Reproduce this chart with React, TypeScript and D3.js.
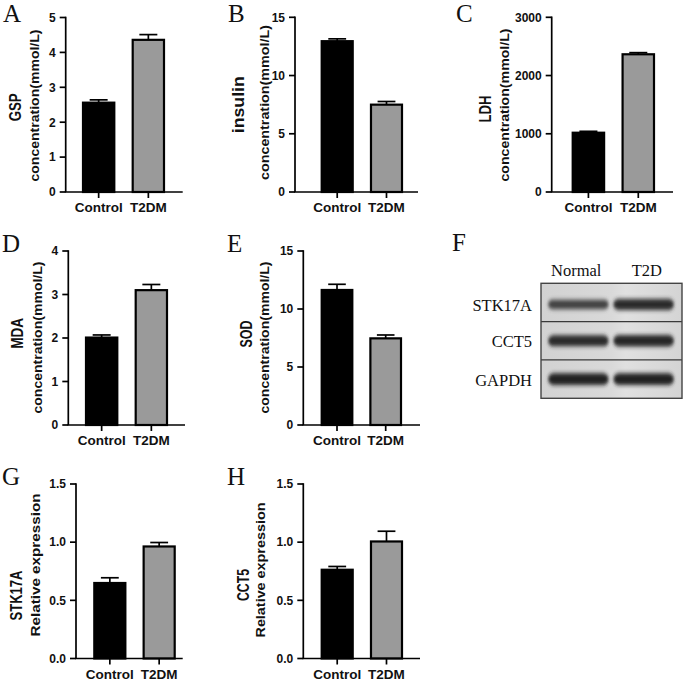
import React from "react";
import * as d3 from "d3";

// ---------- data ----------
const categories = ["Control", "T2DM"];

const gspMean = [2.56, 4.36];
const gspErr = [0.08, 0.15];
const gspTicks = [0, 1, 2, 3, 4, 5];

const insulinMean = [12.95, 7.5];
const insulinErr = [0.2, 0.27];
const insulinTicks = [0, 5, 10, 15];

const ldhMean = [1018, 2365];
const ldhErr = [24, 28];
const ldhTicks = [0, 1000, 2000, 3000];

const mdaMean = [2.01, 3.1];
const mdaErr = [0.06, 0.13];
const mdaTicks = [0, 1, 2, 3, 4];

const sodMean = [11.64, 7.47];
const sodErr = [0.49, 0.29];
const sodTicks = [0, 5, 10, 15];

const stk17aMean = [0.649, 0.963];
const stk17aErr = [0.045, 0.034];
const relTicks = [0, 0.5, 1.0, 1.5];

const cct5Mean = [0.763, 1.006];
const cct5Err = [0.028, 0.088];

const blotLanes = ["Normal", "T2D"];
const blotProteins = ["STK17A", "CCT5", "GAPDH"];
// relative band darkness (0..1) per protein, per lane
const blotIntensity = [
  [0.62, 0.85],
  [0.85, 0.92],
  [0.95, 0.95],
];

// ---------- style ----------
const SANS = "'Liberation Sans', Arial, Helvetica, sans-serif";
const SERIF = "'Liberation Serif', 'Times New Roman', serif";
const barFill = ["#000000", "#9a9a9a"];

type Panel = {
  letter: string;
  lx: number;
  ly: number;
  mean: number[];
  err: number[];
  ticks: number[];
  fmt: (v: number) => string;
  x0: number;
  xEnd: number;
  yTop: number;
  y0: number;
  barL: number;
  barR: number;
  t1: string;
  t1x: number;
  t1y: number;
  t1len: number;
  t2: string;
  t2x: number;
  t2y: number;
  t2len: number;
};

const intFmt = (v: number) => d3.format("d")(v);
const oneFmt = (v: number) => d3.format(".1f")(v);

const panels: Panel[] = [
  {
    letter: "A", lx: 3, ly: 22, mean: gspMean, err: gspErr, ticks: gspTicks, fmt: intFmt,
    x0: 65.7, xEnd: 182.7, yTop: 17.5, y0: 192, barL: 82, barR: 165,
    t1: "GSP", t1x: 21, t1y: 107.3, t1len: 28,
    t2: "concentration(mmol/L)", t2x: 38.9, t2y: 105.5, t2len: 152,
  },
  {
    letter: "B", lx: 228, ly: 22, mean: insulinMean, err: insulinErr, ticks: insulinTicks, fmt: intFmt,
    x0: 295, xEnd: 418, yTop: 17.3, y0: 192, barL: 320.7, barR: 403,
    t1: "insulin", t1x: 244, t1y: 104.7, t1len: 57,
    t2: "concentration(mmol/L)", t2x: 268.8, t2y: 102.5, t2len: 155,
  },
  {
    letter: "C", lx: 456, ly: 22, mean: ldhMean, err: ldhErr, ticks: ldhTicks, fmt: intFmt,
    x0: 551.7, xEnd: 673, yTop: 17.3, y0: 192, barL: 571.7, barR: 655,
    t1: "LDH", t1x: 490.5, t1y: 109, t1len: 27,
    t2: "concentration(mmol/L)", t2x: 508.8, t2y: 105, t2len: 153,
  },
  {
    letter: "D", lx: 2, ly: 251.5, mean: mdaMean, err: mdaErr, ticks: mdaTicks, fmt: intFmt,
    x0: 68.3, xEnd: 185, yTop: 251, y0: 425, barL: 85, barR: 168,
    t1: "MDA", t1x: 23, t1y: 333.3, t1len: 31,
    t2: "concentration(mmol/L)", t2x: 42, t2y: 337.5, t2len: 152,
  },
  {
    letter: "E", lx: 227, ly: 251.5, mean: sodMean, err: sodErr, ticks: sodTicks, fmt: intFmt,
    x0: 303.3, xEnd: 420, yTop: 251, y0: 425, barL: 320.7, barR: 402,
    t1: "SOD", t1x: 251.5, t1y: 334, t1len: 27,
    t2: "concentration(mmol/L)", t2x: 268.8, t2y: 337.5, t2len: 152,
  },
  {
    letter: "G", lx: 2, ly: 485, mean: stk17aMean, err: stk17aErr, ticks: relTicks, fmt: oneFmt,
    x0: 76, xEnd: 182.7, yTop: 484, y0: 658.5, barL: 93.3, barR: 175.7,
    t1: "STK17A", t1x: 21.7, t1y: 595.5, t1len: 50,
    t2: "Relative expression", t2x: 40.4, t2y: 565, t2len: 143,
  },
  {
    letter: "H", lx: 227, ly: 485, mean: cct5Mean, err: cct5Err, ticks: relTicks, fmt: oneFmt,
    x0: 303.3, xEnd: 420, yTop: 484, y0: 658.5, barL: 320.7, barR: 403,
    t1: "CCT5", t1x: 248.5, t1y: 585, t1len: 32,
    t2: "Relative expression", t2x: 265.4, t2y: 570, t2len: 135,
  },
];

function BarPanel({ p }: { p: Panel }) {
  const yMax = p.ticks[p.ticks.length - 1];
  const y = d3.scaleLinear().domain([0, yMax]).range([p.y0, p.yTop]);
  const x = d3
    .scaleBand<string>()
    .domain(categories)
    .range([p.barL, p.barR])
    .paddingInner(0.33)
    .paddingOuter(0);
  const bw = x.bandwidth();
  const axisW = 1.7;
  const tickLen = 6;
  return (
    <g>
      <text x={p.lx} y={p.ly} fontFamily={SERIF} fontSize={25} fill="#111">
        {p.letter}
      </text>
      {/* bars */}
      {categories.map((c, i) => {
        const bx = x(c)!;
        const top = y(p.mean[i]);
        const etop = y(p.mean[i] + p.err[i]);
        const cx = bx + bw / 2;
        return (
          <g key={c}>
            <line x1={cx} x2={cx} y1={top} y2={etop} stroke="#000" strokeWidth={1.7} />
            <line x1={cx - bw * 0.27} x2={cx + bw * 0.27} y1={etop} y2={etop} stroke="#000" strokeWidth={1.7} />
            <rect
              x={bx + 1}
              y={top}
              width={bw - 2}
              height={p.y0 - top}
              fill={barFill[i]}
              stroke="#000"
              strokeWidth={2.2}
            />
          </g>
        );
      })}
      {/* y axis */}
      <line x1={p.x0} x2={p.x0} y1={p.yTop - 0.8} y2={p.y0} stroke="#000" strokeWidth={axisW} />
      {p.ticks.map((t) => (
        <g key={t}>
          <line x1={p.x0 - tickLen} x2={p.x0} y1={y(t)} y2={y(t)} stroke="#000" strokeWidth={axisW} />
          <text
            x={p.x0 - tickLen - 4}
            y={y(t)}
            dy="0.36em"
            textAnchor="end"
            fontFamily={SANS}
            fontWeight="bold"
            fontSize={12}
            fill="#111"
          >
            {p.fmt(t)}
          </text>
        </g>
      ))}
      {/* x axis */}
      <line x1={p.x0 - axisW / 2} x2={p.xEnd} y1={p.y0} y2={p.y0} stroke="#000" strokeWidth={axisW} />
      {categories.map((c) => {
        const cx = x(c)! + bw / 2;
        return (
          <g key={c}>
            <line x1={cx} x2={cx} y1={p.y0} y2={p.y0 + tickLen} stroke="#000" strokeWidth={axisW} />
            <text
              x={cx}
              y={p.y0 + 20}
              textAnchor="middle"
              fontFamily={SANS}
              fontWeight="bold"
              fontSize={13.5}
              fill="#111"
            >
              {c}
            </text>
          </g>
        );
      })}
      {/* axis titles */}
      <text
        transform={`translate(${p.t1x},${p.t1y}) rotate(-90)`}
        textAnchor="middle"
        fontFamily={SANS}
        fontWeight="bold"
        fontSize={16}
        textLength={p.t1len}
        lengthAdjust="spacingAndGlyphs"
        fill="#111"
      >
        {p.t1}
      </text>
      <text
        transform={`translate(${p.t2x},${p.t2y}) rotate(-90)`}
        textAnchor="middle"
        fontFamily={SANS}
        fontWeight="bold"
        fontSize={13.5}
        textLength={p.t2len}
        lengthAdjust="spacingAndGlyphs"
        fill="#111"
      >
        {p.t2}
      </text>
    </g>
  );
}

function Blot() {
  const box = { x0: 541, x1: 682, y0: 283.3, y1: 398.3 };
  const laneHead = d3.scaleBand<string>().domain(blotLanes).range([box.x0, box.x1]).padding(0);
  const lane = d3
    .scaleBand<string>()
    .domain(blotLanes)
    .range([548, 674])
    .paddingInner(0.07)
    .paddingOuter(0);
  const row = d3.scaleBand<string>().domain(blotProteins).range([box.y0, box.y1]).padding(0);
  const rh = row.bandwidth();
  return (
    <g>
      <defs>
        <filter id="blur" x="-20%" y="-100%" width="140%" height="300%">
          <feGaussianBlur stdDeviation="1.8 2" />
        </filter>
        <linearGradient id="bg" x1="0" x2="1" y1="0" y2="0">
          <stop offset="0" stopColor="#d2d2d2" />
          <stop offset="0.5" stopColor="#d9d9d9" />
          <stop offset="0.6" stopColor="#e0e0e0" />
          <stop offset="1" stopColor="#d4d4d4" />
        </linearGradient>
      </defs>
      <text x={452} y={251} fontFamily={SERIF} fontSize={25} fill="#111">
        F
      </text>
      <rect x={box.x0} y={box.y0} width={box.x1 - box.x0} height={box.y1 - box.y0} fill="url(#bg)" />
      {blotProteins.map((pr, ri) => {
        const cy = row(pr)! + rh / 2 + (ri === 0 ? 2 : 0);
        return (
          <g key={pr}>
            {blotLanes.map((ln, li) => {
              const v = blotIntensity[ri][li];
              const h = 5 + v * 7;
              const g = Math.round(125 - v * 95);
              return (
                <rect
                  key={ln}
                  x={lane(ln)!}
                  y={cy - h / 2}
                  width={lane.bandwidth()}
                  height={h}
                  rx={h / 2}
                  fill={`rgb(${g},${g},${g})`}
                  filter="url(#blur)"
                />
              );
            })}
            <text
              x={532}
              y={cy + 6.5}
              textAnchor="end"
              fontFamily={SERIF}
              fontSize={16.5}
              fill="#111"
            >
              {pr}
            </text>
          </g>
        );
      })}
      {blotProteins.slice(1).map((pr) => (
        <line key={pr} x1={box.x0} x2={box.x1} y1={row(pr)!} y2={row(pr)!} stroke="#3a3a3a" strokeWidth={1.3} />
      ))}
      <rect
        x={box.x0}
        y={box.y0}
        width={box.x1 - box.x0}
        height={box.y1 - box.y0}
        fill="none"
        stroke="#444"
        strokeWidth={1.4}
      />
      {blotLanes.map((ln) => (
        <text
          key={ln}
          x={laneHead(ln)! + laneHead.bandwidth() / 2}
          y={276}
          textAnchor="middle"
          fontFamily={SERIF}
          fontSize={16.5}
          fill="#111"
        >
          {ln}
        </text>
      ))}
    </g>
  );
}

export default function App() {
  return (
    <svg
      width={685}
      height={682}
      viewBox="0 0 685 682"
      style={{ position: "absolute", left: 0, top: 0, background: "#fff" }}
    >
      <rect width={685} height={682} fill="#fff" />
      {panels.map((p) => (
        <BarPanel key={p.letter} p={p} />
      ))}
      <Blot />
    </svg>
  );
}
